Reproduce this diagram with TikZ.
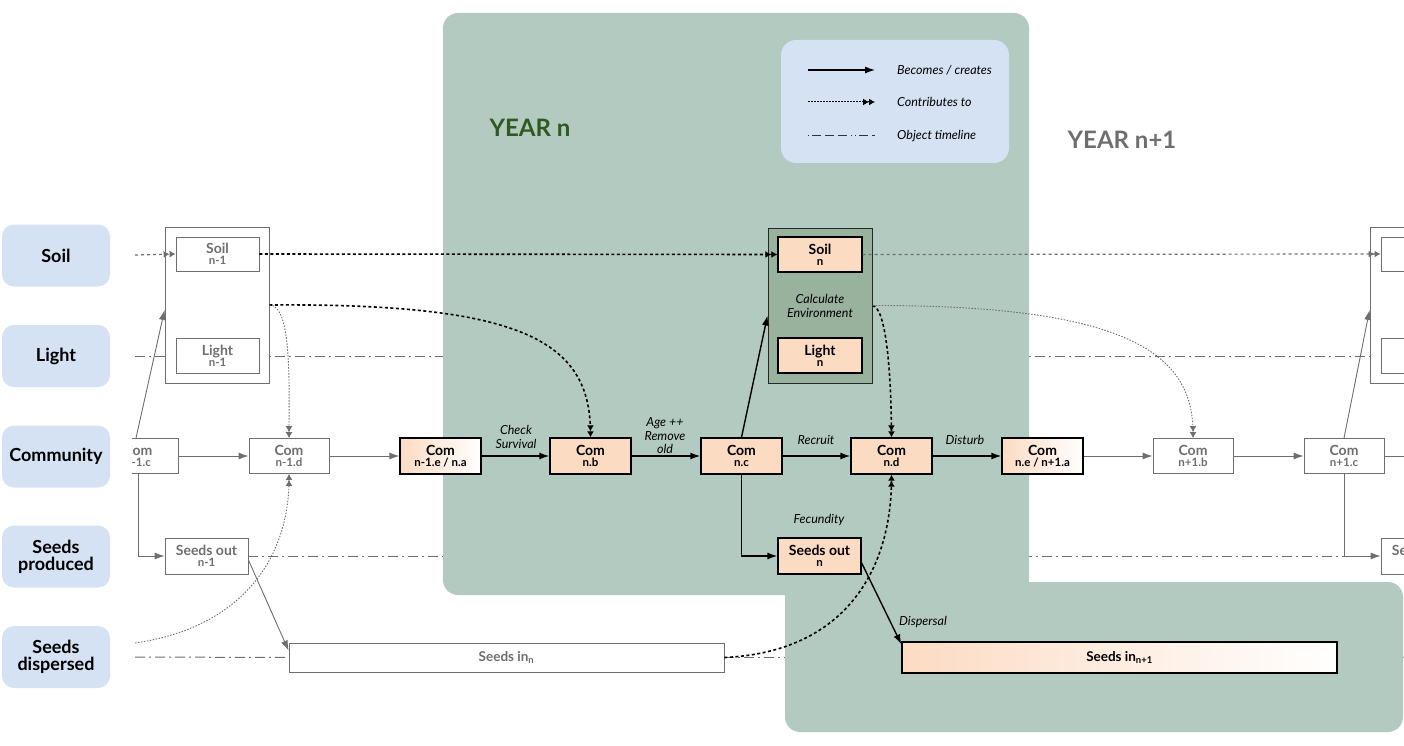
\documentclass[tikz,border=0pt]{standalone}
\usepackage{fontspec}
\setmainfont{Lato}
\usetikzlibrary{arrows.meta,calc,backgrounds}
\definecolor{yearfill}{HTML}{B3CAC0}
\definecolor{envfill}{HTML}{98B29E}
\definecolor{rowfill}{HTML}{D4E2F4}
\definecolor{peach}{HTML}{FCDBC3}
\definecolor{oldgrey}{HTML}{6E6E6E}
\definecolor{yeartext}{HTML}{2F5A1F}
\newcommand\stagetext[2]{{\fontsize{14}{15}\selectfont\bfseries #1}\\[-1pt]{\fontsize{11.5}{12}\selectfont\bfseries #2}}
\tikzset{
  rowlabel/.style={rounded corners=12pt, fill=rowfill, minimum width=108pt, minimum height=62pt,
    inner sep=0pt, align=center, font=\fontsize{18}{19}\selectfont\bfseries},
  stagebox/.style={draw=black, line width=1.3pt, fill=peach, minimum width=81pt, minimum height=36pt,
    inner sep=0pt, align=center},
  fadebox/.style={stagebox, left color=peach, middle color=peach!45!white, right color=white},
  oldbox/.style={draw=oldgrey, line width=0.9pt, fill=white, text=oldgrey, minimum width=80pt,
    minimum height=35pt, inner sep=0pt, align=center},
  groupbox/.style={draw=oldgrey, line width=0.9pt, fill=white, minimum width=104pt, minimum height=156pt, inner sep=0pt},
  becomes/.style={draw=black, line width=1.4pt, -{Latex[length=10pt,width=7pt]}},
  oldbecomes/.style={draw=oldgrey, line width=0.9pt, -{Latex[length=10pt,width=7pt]}},
  contrib/.style={draw=black, line width=1.6pt, dash pattern=on 3pt off 2.5pt,
    -{Latex[length=6pt,width=7pt]Latex[length=6pt,width=7pt]}},
  oldcontrib/.style={draw=oldgrey, line width=1.2pt, dash pattern=on 3pt off 3pt,
    -{Latex[length=6pt,width=7pt]Latex[length=6pt,width=7pt]}},
  finecontrib/.style={draw=oldgrey, line width=0.9pt, dash pattern=on 1.5pt off 1.5pt,
    -{Latex[length=6pt,width=7pt]Latex[length=6pt,width=7pt]}},
  timeline/.style={draw=oldgrey, line width=1pt, dash pattern=on 10pt off 4pt on 2pt off 4pt},
  steplabel/.style={font=\fontsize{12.5}{13.5}\selectfont\itshape, align=center, inner sep=0pt},
  legendtext/.style={font=\fontsize{12.5}{13.5}\selectfont\itshape, anchor=west, inner sep=0pt},
}
\begin{document}
\begin{tikzpicture}[x=1pt,y=-1pt]
\useasboundingbox (0,0) rectangle (1404,746);
\clip (0,0) rectangle (1404,746);

% ---- year n and the following dispersal area
\fill[yearfill, rounded corners=15pt] (443,13) rectangle (1029,595);
\fill[yearfill, rounded corners=15pt] (785,582) rectangle (1403,732);

% ---- legend
\node[fill=rowfill, rounded corners=15pt, minimum width=228pt, minimum height=123pt] (legend) at (895,101.5) {};
\coordinate (lg1a) at (808,70);  \coordinate (lg1b) at (875,70);
\coordinate (lg2a) at (808,102); \coordinate (lg2b) at (875,102);
\coordinate (lg3a) at (808,136); \coordinate (lg3b) at (875,136);
\draw[black, line width=1.3pt, -{Latex[length=10pt,width=7pt]}] (lg1a) -- (lg1b);
\draw[black, line width=1pt, dash pattern=on 1.5pt off 1.5pt,
  -{Latex[length=6pt,width=7pt]Latex[length=6pt,width=7pt]}] (lg2a) -- (lg2b);
\draw[black!80, line width=1pt, dash pattern=on 1pt off 3pt on 9pt off 4pt on 9pt off 4pt on 9pt off 4pt on 1pt off 3pt] (lg3a) -- (lg3b);
\node[legendtext] (lgt1) at (897,70) {Becomes / creates};
\node[legendtext] (lgt2) at (897,102) {Contributes to};
\node[legendtext] (lgt3) at (897,136) {Object timeline};

% ---- year titles
\node[font=\fontsize{24}{26}\selectfont\bfseries, text=yeartext] (yearn) at (530,128) {YEAR n};
\node[font=\fontsize{24}{26}\selectfont\bfseries, text=oldgrey] (yearnext) at (1122,140) {YEAR n+1};

\begin{scope}
\clip (132,0) rectangle (1404,746);
% ---- year n-1 (grey)
\node[groupbox] (envold) at (217,305) {};
\node[oldbox, minimum width=83pt, minimum height=34pt] (soilold) at (217.5,254) {\stagetext{Soil}{n-1}};
\node[oldbox, minimum width=83pt, minimum height=35pt] (lightold) at (217.5,355.5) {\stagetext{Light}{n-1}};
\node[oldbox] (comc0) at (138,456) {\stagetext{Com}{n-1.c}};
\node[oldbox] (comd0) at (289,456) {\stagetext{Com}{n-1.d}};
\node[oldbox, minimum width=83pt, minimum height=36pt] (seedsout0) at (206.5,556) {\stagetext{Seeds out}{n-1}};
\node[oldbox, minimum width=435pt, minimum height=29pt] (seedsin) at (506.5,657.5)
  {\fontsize{13.5}{14}\selectfont\bfseries Seeds in\textsubscript{n}};

% ---- year n
\node[fadebox] (comea) at (440.5,456) {\stagetext{Com}{n-1.e / n.a}};
\node[stagebox] (comb) at (590.5,456) {\stagetext{Com}{n.b}};
\node[stagebox] (comc) at (741.5,456) {\stagetext{Com}{n.c}};
\node[stagebox] (comd) at (891.5,456) {\stagetext{Com}{n.d}};
\node[fadebox] (come) at (1042.5,456) {\stagetext{Com}{n.e / n+1.a}};
\node[draw=black!85, line width=1pt, fill=envfill, minimum width=104pt, minimum height=155pt, inner sep=0pt,
  font=\fontsize{12.5}{14}\selectfont\itshape, align=center] (env) at (820,305.5) {Calculate\\Environment};
\node[stagebox, minimum width=84pt, minimum height=35pt] (soiln) at (820,254.5) {\stagetext{Soil}{n}};
\node[stagebox, minimum width=84pt, minimum height=35pt] (lightn) at (820,355.5) {\stagetext{Light}{n}};
\node[stagebox, minimum width=83pt, minimum height=36pt] (seedsout) at (819.5,556) {\stagetext{Seeds out}{n}};
\node[fadebox, minimum width=435pt, minimum height=31pt] (seedsin2) at (1119.5,657.5)
  {\fontsize{13.5}{14}\selectfont\bfseries Seeds in\textsubscript{n+1}};

% ---- year n+1 (grey)
\node[oldbox] (comb2) at (1193,456) {\stagetext{Com}{n+1.b}};
\node[oldbox] (comc2) at (1344,456) {\stagetext{Com}{n+1.c}};
\node[groupbox] (envnext) at (1422,305) {};
\node[oldbox, minimum width=83pt, minimum height=34pt] (soilnext) at (1422.5,254) {};
\node[oldbox, minimum width=83pt, minimum height=35pt] (lightnext) at (1422.5,355.5) {};
\node[oldbox, minimum width=83pt, minimum height=36pt] (seedsout2) at (1422.5,556) {\stagetext{Seeds out}{n+1}};

% ---- free ends of the row lines
\coordinate (soilstart) at (135,255);
\coordinate (lightstart) at (135,356);
\coordinate (lightend) at (1404,356);
\coordinate (dispstart) at (135,657);
\coordinate (dispend) at (1404,657);
\coordinate (curvestart) at (135,643);
\coordinate (comend) at (1404,456);

% ---- object timelines behind the boxes
\begin{scope}[on background layer]
\draw[timeline] (lightstart) -- (lightend);
\draw[timeline] (seedsout0.east) -- (seedsout.west);
\draw[timeline] (seedsout.east) -- (seedsout2.west);
\draw[timeline] (dispstart) -- (seedsin.west);
\draw[timeline] (seedsin.east) -- (seedsin2.west);
\draw[timeline] (seedsin2.east) -- (dispend);
\end{scope}

% ---- soil row
\draw[oldcontrib] (soilstart) -- (soilold.west);
\draw[contrib] (soilold.east) -- (soiln.west);
\draw[oldcontrib] (soiln.east) -- (soilnext.west);

% ---- community row
\draw[oldbecomes] (comc0) -- (comd0);
\draw[oldbecomes] (comd0) -- (comea);
\draw[becomes] (comea) -- (comb);
\draw[becomes] (comb) -- (comc);
\draw[becomes] (comc) -- (comd);
\draw[becomes] (comd) -- (come);
\draw[oldbecomes] (come) -- (comb2);
\draw[oldbecomes] (comb2) -- (comc2);
\draw[draw=oldgrey, line width=0.9pt] (comc2) -- (comend);

% ---- year n-1 branches
\draw[oldbecomes] ([xshift=-2pt]comc0.north) -- ([yshift=-5pt]envold.west);
\draw[oldbecomes] (comc0.south) |- (seedsout0.west);
\draw[oldbecomes] ([yshift=-4pt]seedsout0.east) -- ([yshift=7pt]seedsin.west);

% ---- year n branches
\draw[becomes] (comc.north) -- ([yshift=-10pt]env.west);
\draw[becomes] (comc.south) |- (seedsout.west);
\draw[becomes] ([yshift=-7pt]seedsout.east) -- ([yshift=-3pt]seedsin2.north west);

% ---- year n+1 branches
\draw[oldbecomes] (comc2.north) -- ([yshift=-5pt]envnext.west);
\draw[oldbecomes] (comc2.south) |- (seedsout2.west);

% ---- contributions
\draw[contrib] (envold.east) .. controls (520,303) and (590,340) .. (comb.north);
\draw[finecontrib] (envold.east) .. controls (292,305) and (289,385) .. (comd0.north);
\draw[finecontrib] (curvestart) .. controls (240,628) and (289,560) .. (comd0.south);
\draw[contrib] (seedsin.east) .. controls (845,652) and (891,570) .. (comd.south);
\draw[contrib] (env.east) .. controls (886,308) and (891,370) .. (comd.north);
\draw[finecontrib] (env.east) .. controls (1130,305) and (1193,355) .. (comb2.north);
\end{scope}

% ---- step labels
\node[steplabel] (lcheck) at (516,437) {Check\\Survival};
\node[steplabel] (lage) at (665,436) {Age ++\\Remove\\old};
\node[steplabel] (lrecruit) at (816,440) {Recruit};
\node[steplabel] (ldisturb) at (965,440) {Disturb};
\node[steplabel] (lfec) at (819,520) {Fecundity};
\node[steplabel] (ldisp) at (923,622) {Dispersal};

% ---- row labels
\node[rowlabel] (rsoil) at (56,255.5) {Soil};
\node[rowlabel] (rlight) at (56,356) {Light};
\node[rowlabel] (rcom) at (56,456.5) {Community};
\node[rowlabel] (rprod) at (56,556.5) {Seeds\\[-2pt]produced};
\node[rowlabel] (rdisp) at (56,657) {Seeds\\[-2pt]dispersed};
\end{tikzpicture}
\end{document}
